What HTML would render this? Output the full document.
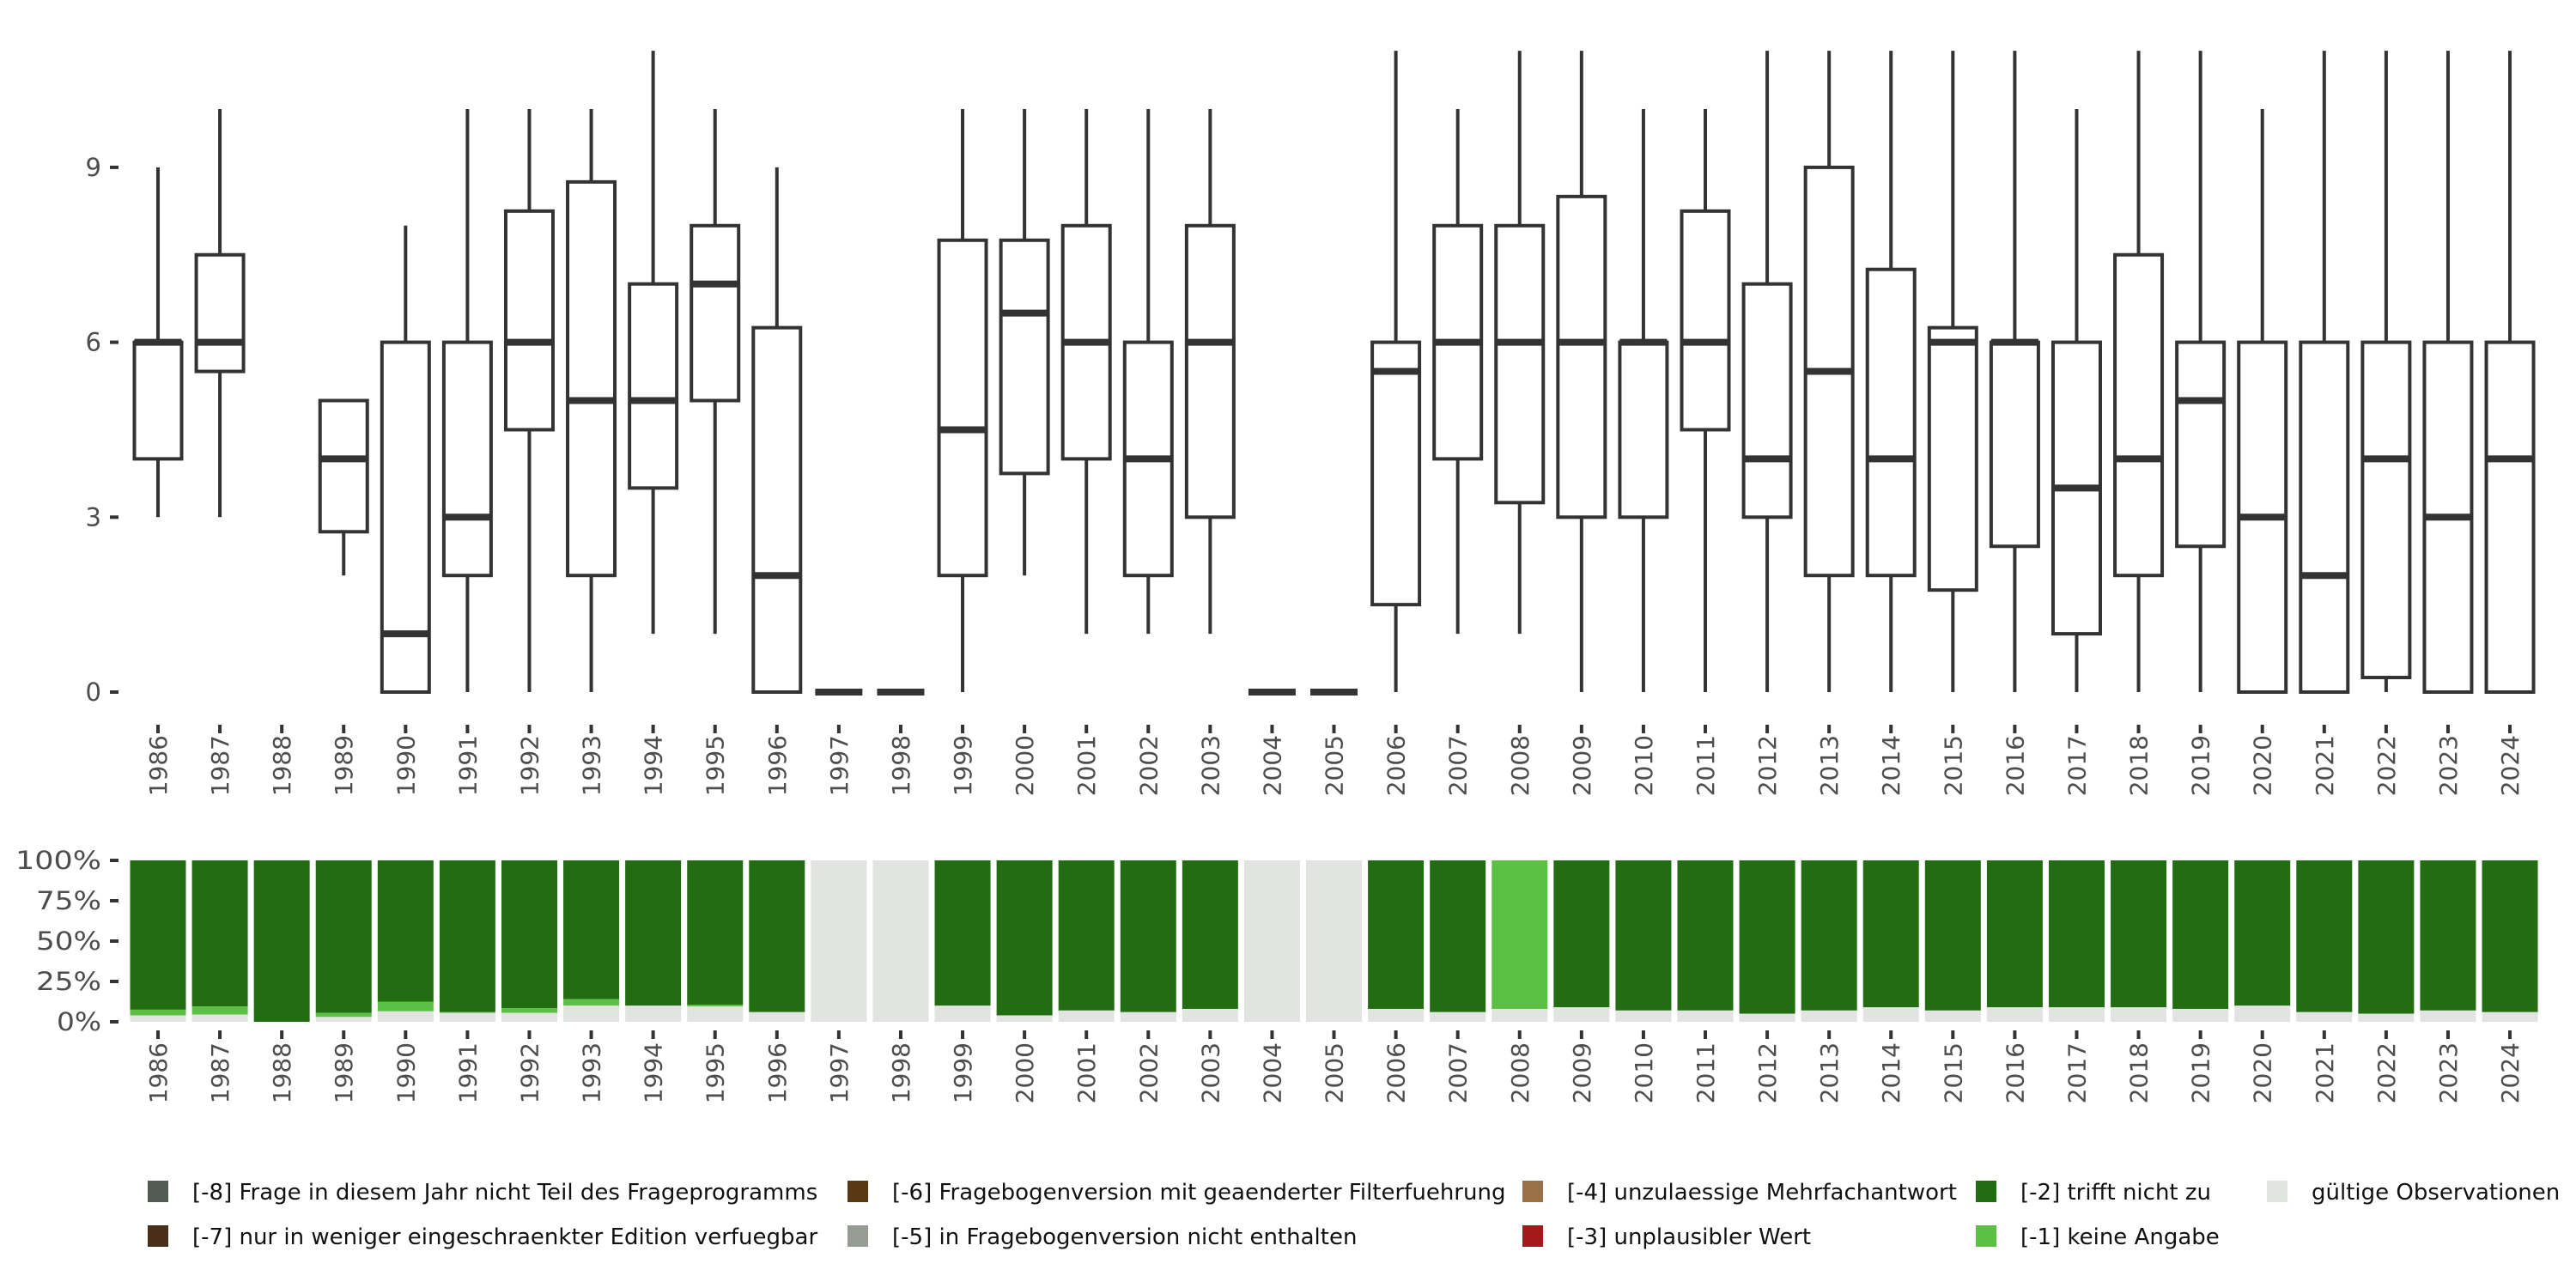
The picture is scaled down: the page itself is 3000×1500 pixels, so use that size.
<!DOCTYPE html>
<html><head><meta charset="utf-8"><style>
body{margin:0;background:#fff}
svg{display:block;font-family:"DejaVu Sans","Liberation Sans",sans-serif}
</style></head><body>
<svg id="c" width="3000" height="1500" viewBox="0 0 3000 1500"></svg>
<script>
const years=[1986,1987,1988,1989,1990,1991,1992,1993,1994,1995,1996,1997,1998,1999,2000,2001,2002,2003,2004,2005,2006,2007,2008,2009,2010,2011,2012,2013,2014,2015,2016,2017,2018,2019,2020,2021,2022,2023,2024];
const whiskLo=[3,3,null,2,0,0,0,0,1,1,0,0,0,0,2,1,1,1,0,0,0,1,1,0,0,0,0,0,0,0,0,0,0,0,0,0,0,0,0];
const q1=[4,5.5,null,2.75,0,2,4.5,2,3.5,5,0,0,0,2,3.75,4,2,3,0,0,1.5,4,3.25,3,3,4.5,3,2,2,1.75,2.5,1,2,2.5,0,0,0.25,0,0];
const med=[6,6,null,4,1,3,6,5,5,7,2,0,0,4.5,6.5,6,4,6,0,0,5.5,6,6,6,6,6,4,5.5,4,6,6,3.5,4,5,3,2,4,3,4];
const q3=[6,7.5,null,5,6,6,8.25,8.75,7,8,6.25,0,0,7.75,7.75,8,6,8,0,0,6,8,8,8.5,6,8.25,7,9,7.25,6.25,6,6,7.5,6,6,6,6,6,6];
const whiskHi=[9,10,null,5,8,10,10,10,11,10,9,0,0,10,10,10,10,10,0,0,11,10,11,11,10,10,11,11,11,11,11,10,11,11,10,11,11,11,11];
const pctValid=[4,4.5,0,3,6.5,5.5,5.5,10,10,9.5,6,100,100,10,4,7,6,8,100,100,8,6,8,9,7,7,5,7,9,7,9,9,9,8,10,6,5,7,6];
const pctNoAnswer=[3.5,5,0,2.5,6,0.5,3,4,0,1,0,0,0,0,0,0,0,0,0,0,0,0,92,0,0,0,0,0,0,0,0,0,0,0,0,0,0,0,0];
const yTicks=[0,3,6,9];
const pTicks=[0,25,50,75,100];
const legendItems=[["[-8] Frage in diesem Jahr nicht Teil des Frageprogramms","#525a54"],["[-7] nur in weniger eingeschraenkter Edition verfuegbar","#4a2e17"],["[-6] Fragebogenversion mit geaenderter Filterfuehrung","#5b3814"],["[-5] in Fragebogenversion nicht enthalten","#969c94"],["[-4] unzulaessige Mehrfachantwort","#9a7048"],["[-3] unplausibler Wert","#a5191a"],["[-2] trifft nicht zu","#226c12"],["[-1] keine Angabe","#5bc043"],["gültige Observationen","#e1e4e0"]];
const NS="http://www.w3.org/2000/svg",svg=document.getElementById('c');
function mk(t,a,p){const e=document.createElementNS(NS,t);for(const k in a)e.setAttribute(k,a[k]);(p||svg).appendChild(e);return e;}
const xS=i=>184+i*72.08;
const yS=v=>806-v*67.9;
const pS=v=>1190-v*1.88;
yTicks.forEach(t=>{const g=mk('g',{});
mk('line',{x1:128,x2:138,y1:yS(t),y2:yS(t),stroke:'#333','stroke-width':4},g);
const tx=mk('text',{x:118,y:yS(t)+10,'text-anchor':'end','font-size':29,fill:'#4d4d4d'},g);tx.textContent=t;});
pTicks.forEach(t=>{const g=mk('g',{});
mk('line',{x1:128,x2:138,y1:pS(t),y2:pS(t),stroke:'#333','stroke-width':4},g);
const tx=mk('text',{x:118,y:pS(t)+10,'text-anchor':'end','font-size':29,fill:'#4d4d4d','textLength':t===100?100:(t===0?52:76),'lengthAdjust':'spacingAndGlyphs'},g);tx.textContent=t+'%';});
const bw=55;
years.forEach((y,i)=>{const x=xS(i);
 [[844,856],[1200,1214]].forEach(([ty,ly],k)=>{mk('line',{x1:x,x2:x,y1:ty,y2:ty+10,stroke:'#333','stroke-width':4});
  const t=mk('text',{x:0,y:0,'text-anchor':'end','font-size':28,fill:'#4d4d4d',transform:`translate(${x+10},${ly}) rotate(-90)`});
  t.textContent=y;});
 if(med[i]!==null){const g=mk('g',{});
  mk('line',{x1:x,x2:x,y1:yS(whiskHi[i]),y2:yS(q3[i]),stroke:'#333','stroke-width':4},g);
  mk('line',{x1:x,x2:x,y1:yS(q1[i]),y2:yS(whiskLo[i]),stroke:'#333','stroke-width':4},g);
  mk('rect',{x:x-bw/2,y:yS(q3[i]),width:bw,height:yS(q1[i])-yS(q3[i]),fill:'#fff',stroke:'#333','stroke-width':4},g);
  mk('line',{x1:x-bw/2,x2:x+bw/2,y1:yS(med[i]),y2:yS(med[i]),stroke:'#333','stroke-width':8},g);}
 const g=mk('g',{});
 const w=65,v=pctValid[i],n=pctNoAnswer[i];
 mk('rect',{x:x-w/2,y:pS(100),width:w,height:pS(v+n)-pS(100),fill:'#226c12'},g);
 mk('rect',{x:x-w/2,y:pS(v+n),width:w,height:pS(v)-pS(v+n),fill:'#5bc043'},g);
 mk('rect',{x:x-w/2,y:pS(v),width:w,height:pS(0)-pS(v),fill:'#e1e4e0'},g);
});
const colX=[172,987,1773,2301,2640];
legendItems.forEach((it,k)=>{const c=Math.floor(k/2),r=k%2,x=colX[c],y=1375+r*52;
 const g=mk('g',{});
 mk('rect',{x:x,y:y,width:24,height:25,fill:it[1]},g);
 const t=mk('text',{x:x+52,y:y+22,'font-size':26,fill:'#111'},g);t.textContent=it[0];});
</script>
</body></html>
